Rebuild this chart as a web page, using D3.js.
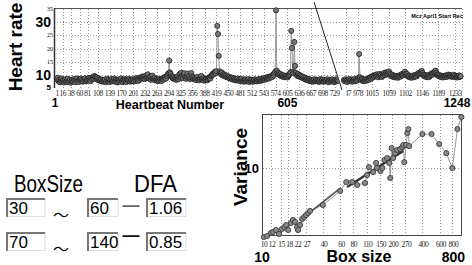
<!DOCTYPE html>
<html>
<head>
<meta charset="utf-8">
<script src="https://cdn.jsdelivr.net/npm/d3@7"></script>
<style>
body { margin: 0; background: #fff; }
svg { display: block; font-family: "Liberation Sans", Arial, sans-serif; }
</style>
</head>
<body>
<script>
// tick labels of the broken beat axis
var leftTicks = [1,16,38,60,81,108,139,170,201,232,263,294,325,356,388,419,450,481,512,543,574,605,636,667,698,729];
var rightTicks = [947,978,1015,1059,1102,1146,1189,1233];
var beatMarks = [1, 605, 1248];
var hrTicks = [5,10,15,20,25,30,35];

// heart rate, every 2nd beat
var hrLeftStart = 1, hrRightStart = 941, hrStep = 2;
var hrLeft = [
  8.4,8.9,7.6,8.1,7.2,7.9,8.6,7.5,8.0,7.1,7.8,8.3,7.4,7.9,8.5,7.3,7.7,8.2,7.0,7.6,
  8.1,7.5,8.4,7.8,7.2,8.0,8.6,7.7,7.3,8.2,7.9,8.5,7.6,8.1,7.4,8.3,7.8,8.7,7.5,8.0,
  8.4,7.9,8.8,8.2,7.6,8.9,8.3,9.1,8.5,9.6,9.2,8.6,9.0,8.1,8.7,7.9,8.4,7.7,8.2,7.5,
  8.0,7.4,7.9,8.3,7.2,7.8,8.5,7.6,8.1,7.3,7.9,8.4,7.5,8.0,7.7,8.6,7.4,8.2,7.8,7.1,
  7.7,8.3,7.5,8.0,8.6,7.8,7.2,8.1,7.6,8.4,7.9,7.3,8.2,7.7,8.5,8.0,7.4,7.9,8.3,7.6,
  8.1,7.5,8.4,7.8,8.8,8.2,7.7,8.6,8.0,9.0,8.5,8.9,9.4,8.7,9.1,8.4,9.6,8.8,9.2,10.2,
  9.0,8.6,9.3,8.1,8.8,9.7,8.5,8.2,8.9,7.9,8.4,8.0,7.6,8.3,7.8,8.5,8.1,7.7,8.4,8.8,
  8.2,8.9,9.3,8.6,9.6,10.1,10.6,15.4,10.9,10.3,9.5,9.0,8.6,9.2,8.4,8.8,8.1,8.7,9.4,8.3,
  9.0,10.4,9.2,10.8,9.5,8.7,9.9,10.6,9.1,8.5,9.3,10.5,8.9,9.6,8.4,9.0,10.7,9.4,8.6,9.1,
  8.3,8.8,8.0,8.6,9.2,8.2,7.9,8.5,8.9,9.6,8.4,8.0,8.7,7.8,8.3,8.1,8.6,7.9,8.4,8.8,
  9.2,8.6,9.5,9.9,10.4,10.1,10.8,11.2,10.6,11.4,28.6,25.5,17.2,11.3,10.7,10.2,10.9,9.8,10.3,9.6,
  10.0,9.3,9.7,9.1,9.4,8.8,9.2,8.6,9.0,8.4,8.8,8.2,8.7,8.0,8.5,7.9,8.3,8.6,7.8,8.2,
  7.7,8.1,8.5,7.6,8.0,7.4,7.9,8.3,7.5,8.0,7.7,8.4,7.3,7.8,8.2,7.6,8.1,7.4,7.9,8.3,
  7.6,8.0,7.5,8.2,7.8,8.4,7.7,8.1,8.6,7.9,8.3,8.7,8.1,8.5,9.0,8.4,8.8,9.2,8.6,9.3,
  9.0,9.6,9.2,10.1,9.7,10.5,11.2,34.5,11.6,10.8,10.2,10.6,9.8,10.3,9.5,9.9,9.3,9.8,9.1,9.6,
  9.2,9.7,9.0,9.5,9.9,10.4,11.0,26.7,20.2,11.2,10.6,22.5,13.4,10.8,10.1,9.6,10.3,9.4,9.9,9.2,
  9.6,8.9,9.3,8.6,9.0,8.3,8.8,8.1,8.5,7.9,8.4,7.7,8.2,7.6,8.0,7.4,7.9,8.3,7.5,7.8,
  8.2,7.6,8.0,7.3,7.8,8.4,7.5,7.9,8.2,7.4,7.7,8.1,7.5,7.9,8.3,7.6,7.2,7.8,8.1,7.5,
  7.9,8.3,7.6,7.2,7.8,8.2,7.5,7.9,8.4,7.7
];
var hrRight = [
  8.0,7.6,8.3,7.8,7.3,8.1,7.7,8.4,7.5,7.9,8.2,7.4,8.0,7.7,8.5,7.6,8.1,7.8,8.4,8.9,
  17.9,9.1,8.3,7.9,8.5,7.7,8.2,7.6,8.0,8.4,7.8,8.3,8.7,8.1,8.8,9.2,8.6,9.4,9.0,9.7,
  9.3,9.9,9.5,10.2,9.6,9.1,9.8,10.4,9.4,10.0,9.2,9.7,10.3,10.8,9.9,10.5,11.0,10.2,10.7,11.3,
  10.5,9.8,10.2,9.4,9.9,9.2,9.7,9.0,9.5,9.1,9.6,8.9,9.4,9.8,9.3,9.9,10.3,9.7,10.1,10.6,
  11.2,10.4,9.9,10.3,9.6,9.2,9.7,9.0,9.5,8.9,9.3,9.8,9.1,9.6,10.0,9.4,9.9,10.4,10.8,10.2,
  10.6,11.1,11.5,10.7,10.1,9.6,10.0,9.3,9.8,9.1,9.5,9.9,9.2,9.7,10.1,10.6,10.0,10.5,10.9,11.2,
  11.6,10.8,10.2,9.7,10.1,9.4,9.8,9.2,9.6,9.0,9.5,9.1,9.6,9.3,9.8,9.2,9.7,10.1,9.5,9.9,
  9.4,9.8,9.2,9.6,10.0,9.3,9.7,9.1,9.5,9.0,9.4,9.8,9.2,9.5
];

// DFA: box size vs variance (log-log)
var boxTicks = [10,12,15,18,22,27,40,60,80,110,150,200,270,400,600,800];
var boxSize = [10.2,11,12,12.6,13.5,14.5,15.5,16.4,17.1,17.9,19.1,20,21,22,22.5,23.6,24.7,25.9,27.1,28.4,
  29.7,40,59.6,68.6,78.8,88.4,106,111,116,128,137,140,151,158,166,177,186,190,196,203,
  213,223,239,251,257,263,275,282,289,295,400,494,590,696,800,900,985];
var variance = [1.20,1.24,1.36,1.40,1.49,1.32,1.54,1.63,1.74,1.49,1.85,2.03,1.91,1.63,1.49,1.74,2.09,2.22,2.36,2.51,
  2.68,3.21,4.94,6.5,6.5,5.93,6.31,8.07,10.3,8.84,11.7,10,9.12,10,12.8,13.6,11.7,7.36,18.5,13.6,
  15.8,17.4,17.9,19.0,20.3,12.0,20.3,29.3,33.1,19.6,28.4,28.4,20.9,15.8,10,33.1,47.9];
var fit1X = [30, 60], fit1Y = [2.6, 5.4];
var fit2X = [70, 257], fit2Y = [5.6, 16.9];

// the little form
var rangeFrom = ["30", "70"];
var rangeTo = ["60", "140"];
var dfaValues = ["1.06", "0.85"];

var svg = d3.select("body").append("svg")
  .attr("width", 472)
  .attr("height", 265);

var defs = svg.append("defs");

// ================= heart rate =================
var hr = { top: 9, bottom: 88, left: 54, right: 462 };
var cut = [[314, 2], [342, 90]];  // diagonal break
var pxPerBeat = 0.3815;

var y = d3.scaleLinear().domain([5, 35]).range([hr.bottom, hr.top]);
var xL = d3.scaleLinear().domain([1, 729]).range([57, 57 + 728 * pxPerBeat]);
var xR = d3.scaleLinear().domain([978, 1233]).range([358, 358 + 255 * pxPerBeat]);

defs.append("clipPath").attr("id", "clipL").append("polygon")
  .attr("points", [[hr.left, 0], [cut[0][0] - 0.6, 0], [cut[1][0] + 0.6, 94], [hr.left, 94]].join(" "));
defs.append("clipPath").attr("id", "clipR").append("polygon")
  .attr("points", [[cut[0][0] + 0.6, 0], [472, 0], [472, 94], [cut[1][0] + 0.6, 94]].join(" "));
defs.append("clipPath").attr("id", "clipRLab").append("rect")
  .attr("x", 346.5).attr("y", 88).attr("width", 130).attr("height", 12);

var grid = svg.append("g")
  .attr("stroke", "#9a9a9a")
  .attr("stroke-width", 1)
  .attr("stroke-dasharray", "1,2");

grid.selectAll("line.h").data(hrTicks.filter(function(d) { return d > 5 && d < 35; }))
  .enter().append("line")
  .attr("x1", hr.left).attr("x2", hr.right)
  .attr("y1", function(d) { return Math.round(y(d)) + 0.5; })
  .attr("y2", function(d) { return Math.round(y(d)) + 0.5; });

grid.append("g").attr("clip-path", "url(#clipL)")
  .selectAll("line").data(leftTicks.slice(1)).enter().append("line")
  .attr("x1", function(d) { return Math.round(xL(d)) + 0.5; })
  .attr("x2", function(d) { return Math.round(xL(d)) + 0.5; })
  .attr("y1", hr.top).attr("y2", hr.bottom);

grid.append("g").attr("clip-path", "url(#clipR)")
  .selectAll("line").data(rightTicks).enter().append("line")
  .attr("x1", function(d) { return Math.round(xR(d)) + 0.5; })
  .attr("x2", function(d) { return Math.round(xR(d)) + 0.5; })
  .attr("y1", hr.top).attr("y2", hr.bottom);

grid.append("line")
  .attr("x1", hr.right + 0.5).attr("x2", hr.right + 0.5)
  .attr("y1", hr.top).attr("y2", hr.bottom);

// frame
svg.append("line")
  .attr("x1", hr.left).attr("x2", hr.right)
  .attr("y1", hr.top - 0.5).attr("y2", hr.top - 0.5)
  .attr("stroke", "#555").attr("stroke-width", 1);
svg.append("line")
  .attr("x1", hr.left + 0.5).attr("x2", hr.left + 0.5)
  .attr("y1", hr.top - 1).attr("y2", hr.bottom)
  .attr("stroke", "#333").attr("stroke-width", 1.5);

function drawSeries(values, start, xs, clip) {
  var pts = values.map(function(v, i) { return { beat: start + i * hrStep, hr: v }; });
  var g = svg.append("g").attr("clip-path", "url(#" + clip + ")");
  g.append("path")
    .datum(pts)
    .attr("fill", "none")
    .attr("stroke", "#999")
    .attr("stroke-width", 1)
    .attr("d", d3.line().x(function(d) { return xs(d.beat); }).y(function(d) { return y(d.hr); }));
  g.selectAll("circle").data(pts).enter().append("circle")
    .attr("cx", function(d) { return xs(d.beat); })
    .attr("cy", function(d) { return y(d.hr); })
    .attr("r", 2.6)
    .attr("fill", "#777")
    .attr("stroke", "#111")
    .attr("stroke-width", 0.7);
}
drawSeries(hrLeft, hrLeftStart, xL, "clipL");
drawSeries(hrRight, hrRightStart, xR, "clipR");

// break line
svg.append("line")
  .attr("x1", cut[0][0]).attr("y1", cut[0][1])
  .attr("x2", cut[1][0]).attr("y2", cut[1][1])
  .attr("stroke", "#222").attr("stroke-width", 1);

// beat tick labels
var tickFont = '"Liberation Serif", "Times New Roman", serif';
svg.append("g").selectAll("text").data(leftTicks).enter().append("text")
  .attr("x", function(d) { return xL(d); })
  .attr("y", 95.5)
  .attr("text-anchor", "middle")
  .style("font-family", tickFont)
  .style("font-size", "7.5px")
  .style("letter-spacing", "-0.5px")
  .attr("fill", "#222")
  .text(function(d) { return d; });
svg.append("g").attr("clip-path", "url(#clipRLab)")
  .selectAll("text").data(rightTicks).enter().append("text")
  .attr("x", function(d) { return xR(d); })
  .attr("y", 95.5)
  .attr("text-anchor", "middle")
  .style("font-family", tickFont)
  .style("font-size", "7.5px")
  .style("letter-spacing", "-0.5px")
  .attr("fill", "#222")
  .text(function(d) { return d; });

// first / cursor / last beat
svg.append("g").selectAll("text").data(beatMarks).enter().append("text")
  .attr("x", function(d) { return d > rightTicks[0] ? xR(d) - 4 : d === 1 ? xL(d) - 2 : xL(d); })
  .attr("y", 107)
  .attr("text-anchor", "middle")
  .style("font-size", "12px")
  .style("font-weight", "bold")
  .text(function(d) { return d; });

// heart rate tick labels
function isBig(d) { return d === 10 || d === 30; }
svg.append("g").selectAll("text").data(hrTicks).enter().append("text")
  .attr("x", function(d) { return isBig(d) ? 51 : d === 5 ? 51 : 53; })
  .attr("y", function(d) { return d === 5 ? 90 : d === 10 ? y(d) + 0.5 : y(d); })
  .attr("dy", function(d) { return d === 5 ? "0" : "0.35em"; })
  .attr("text-anchor", "end")
  .style("font-family", function(d) { return isBig(d) || d === 5 ? null : tickFont; })
  .style("font-size", function(d) { return isBig(d) ? "14px" : d === 5 ? "8px" : "6px"; })
  .style("font-weight", function(d) { return isBig(d) || d === 5 ? "bold" : "normal"; })
  .text(function(d) { return d; });

svg.append("text")
  .attr("transform", "translate(22, 47) rotate(-90)")
  .attr("text-anchor", "middle")
  .style("font-size", "19px")
  .style("font-weight", "bold")
  .text("Heart rate");

svg.append("text")
  .attr("x", 170).attr("y", 109)
  .attr("text-anchor", "middle")
  .style("font-size", "12.5px")
  .style("font-weight", "bold")
  .text("Heartbeat Number");

svg.append("text")
  .attr("x", 437).attr("y", 18)
  .attr("text-anchor", "middle")
  .style("font-size", "5.5px")
  .style("font-weight", "bold")
  .text("Mcz Aprl1 Start Rec");

// ================= DFA plot =================
var dfa = { top: 115, bottom: 236, left: 263, right: 462 };
var xBox = d3.scaleLog().domain([10, 1000]).range([dfa.left, dfa.right]);
var yVar = d3.scaleLog().domain([1.24, 51]).range([dfa.bottom, dfa.top]);

var dgrid = svg.append("g")
  .attr("stroke", "#9a9a9a")
  .attr("stroke-dasharray", "1,2");
dgrid.selectAll("line").data(boxTicks.slice(1)).enter().append("line")
  .attr("x1", function(d) { return Math.round(xBox(d)) + 0.5; })
  .attr("x2", function(d) { return Math.round(xBox(d)) + 0.5; })
  .attr("y1", dfa.top).attr("y2", dfa.bottom);
dgrid.append("line")
  .attr("x1", dfa.left).attr("x2", dfa.right)
  .attr("y1", Math.round(yVar(10)) + 0.5).attr("y2", Math.round(yVar(10)) + 0.5);

svg.append("rect")
  .attr("x", dfa.left - 0.5).attr("y", dfa.top - 0.5)
  .attr("width", dfa.right - dfa.left).attr("height", dfa.bottom - dfa.top)
  .attr("fill", "none")
  .attr("stroke", "#444")
  .attr("stroke-width", 1);

var dfaPts = boxSize.map(function(b, i) { return { box: b, v: variance[i] }; });
svg.append("path")
  .datum(dfaPts)
  .attr("fill", "none")
  .attr("stroke", "#999")
  .attr("stroke-width", 1)
  .attr("d", d3.line().x(function(d) { return xBox(d.box); }).y(function(d) { return yVar(d.v); }));

[[fit1X, fit1Y, "#555", 1.8], [fit2X, fit2Y, "#333", 2.4]].forEach(function(f) {
  svg.append("path")
    .datum(d3.zip(f[0], f[1]))
    .attr("fill", "none")
    .attr("stroke", f[2])
    .attr("stroke-width", f[3])
    .attr("d", d3.line().x(function(d) { return xBox(d[0]); }).y(function(d) { return yVar(d[1]); }));
});

svg.append("g").selectAll("circle").data(dfaPts).enter().append("circle")
  .attr("cx", function(d) { return xBox(d.box); })
  .attr("cy", function(d) { return yVar(d.v); })
  .attr("r", 2.6)
  .attr("fill", "#888")
  .attr("stroke", "#333")
  .attr("stroke-width", 0.8);

svg.append("g").selectAll("text").data(boxTicks).enter().append("text")
  .attr("x", function(d) { return xBox(d) + 1; })
  .attr("y", 246.5)
  .attr("text-anchor", "middle")
  .style("font-family", tickFont)
  .style("font-size", "7.5px")
  .style("letter-spacing", "-0.5px")
  .attr("fill", "#222")
  .text(function(d) { return d; });

svg.append("text")
  .attr("x", dfa.left - 4).attr("y", yVar(10))
  .attr("dy", "0.35em")
  .attr("text-anchor", "end")
  .style("font-size", "13px")
  .style("font-weight", "bold")
  .text("10");

svg.append("text")
  .attr("transform", "translate(247, 167) rotate(-90)")
  .attr("text-anchor", "middle")
  .style("font-size", "19px")
  .style("font-weight", "bold")
  .text("Variance");

svg.append("g").selectAll("text").data([10, 800]).enter().append("text")
  .attr("x", function(d) { return d === 10 ? xBox(d) - 1 : xBox(d) + 1; })
  .attr("y", 261.5)
  .attr("text-anchor", "middle")
  .style("font-size", "14px")
  .style("font-weight", "bold")
  .text(function(d) { return d; });

svg.append("text")
  .attr("x", 359).attr("y", 262)
  .attr("text-anchor", "middle")
  .style("font-size", "16px")
  .style("font-weight", "bold")
  .text("Box size");

// ================= form =================
var form = svg.append("g");
form.append("text").attr("x", 14).attr("y", 192)
  .attr("textLength", 69).attr("lengthAdjust", "spacingAndGlyphs")
  .style("font-size", "24px").text("BoxSize");
form.append("text").attr("x", 134).attr("y", 192)
  .attr("textLength", 43).attr("lengthAdjust", "spacingAndGlyphs")
  .style("font-size", "24px").text("DFA");

var rowTop = [198, 232];
var cols = [{ x: 6, w: 39, vals: rangeFrom }, { x: 87, w: 31, vals: rangeTo }, { x: 146, w: 40, vals: dfaValues }];

rowTop.forEach(function(top, r) {
  cols.forEach(function(c) {
    var g = form.append("g").attr("transform", "translate(" + c.x + "," + top + ")");
    g.append("rect").attr("width", c.w).attr("height", 19).attr("fill", "#fff");
    g.append("path").attr("d", "M" + c.w + ",0.5V18.5H0.5")
      .attr("fill", "none").attr("stroke", "#ddd");
    g.append("path").attr("d", "M1,19V1H" + c.w)
      .attr("fill", "none").attr("stroke", "#777").attr("stroke-width", 2);
    g.append("text").attr("x", 3).attr("y", 16)
      .style("font-size", "17px")
      .text(c.vals[r]);
  });
  form.append("text").attr("x", 61).attr("y", top + 23)
    .attr("text-anchor", "middle")
    .style("font-family", '"Noto Sans CJK JP", sans-serif')
    .style("font-size", "16px")
    .text("～");
  form.append("text").attr("x", 131).attr("y", top + (r === 0 ? 13 : 9))
    .attr("text-anchor", "middle")
    .style("font-size", "17px")
    .style("font-weight", "bold")
    .attr("fill", r === 0 ? "#666" : "#111")
    .text("—");
});
</script>
</body>
</html>
